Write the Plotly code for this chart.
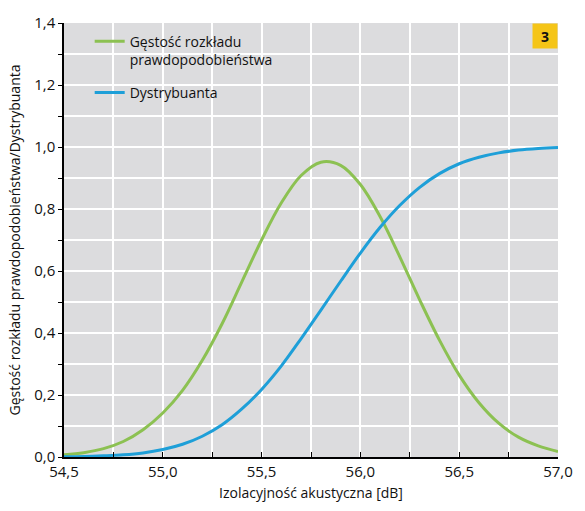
import plotly.graph_objects as go

# Data
x_vals = [54.5, 54.6, 54.7, 54.8, 54.9, 55.0, 55.1, 55.2, 55.3, 55.4, 55.5, 55.6, 55.7,
          55.8, 55.9, 56.0, 56.1, 56.2, 56.3, 56.4, 56.5, 56.6, 56.7, 56.8, 56.9, 57.0]
density = [0.007, 0.014, 0.027, 0.050, 0.088, 0.142, 0.215, 0.312, 0.430, 0.565, 0.700, 0.820, 0.908,
           0.951, 0.941, 0.879, 0.775, 0.645, 0.507, 0.377, 0.264, 0.175, 0.109, 0.064, 0.036, 0.018]
cdf = [0.001, 0.002, 0.004, 0.007, 0.013, 0.024, 0.041, 0.067, 0.104, 0.155, 0.218, 0.294, 0.382,
       0.474, 0.567, 0.658, 0.741, 0.812, 0.870, 0.914, 0.946, 0.967, 0.981, 0.990, 0.995, 0.998]

x_ticks = [54.5, 54.75, 55.0, 55.25, 55.5, 55.75, 56.0, 56.25, 56.5, 56.75, 57.0]
x_labels = ["54,5", "", "55,0", "", "55,5", "", "56,0", "", "56,5", "", "57,0"]
y_ticks = [0.0, 0.1, 0.2, 0.3, 0.4, 0.5, 0.6, 0.7, 0.8, 0.9, 1.0, 1.1, 1.2, 1.3, 1.4]
y_labels = ["0,0", "", "0,2", "", "0,4", "", "0,6", "", "0,8", "", "1,0", "", "1,2", "", "1,4"]

names = ["Gęstość rozkładu<br>prawdopodobieństwa", "Dystrybuanta"]
colors = ["#8cc152", "#1e9fd8"]

FONT = "Open Sans, Lato, sans-serif"
TXT = "#111111"

fig = go.Figure()
fig.add_trace(go.Scatter(x=x_vals, y=density, mode="lines", name=names[0],
                         line=dict(color=colors[0], width=3, shape="spline", smoothing=1.0),
                         legendgroup="a"))
fig.add_trace(go.Scatter(x=x_vals, y=cdf, mode="lines", name=names[1],
                         line=dict(color=colors[1], width=3, shape="spline", smoothing=1.0),
                         legendgroup="b"))

fig.update_layout(
    width=585, height=511,
    margin=dict(l=64, r=27, t=17, b=54),
    paper_bgcolor="white",
    plot_bgcolor="#dcdcde",
    font=dict(family=FONT, size=14, color=TXT),
    showlegend=True,
    legend=dict(x=0.052, y=0.994, xanchor="left", yanchor="top",
                bgcolor="rgba(0,0,0,0)", font=dict(size=14, color=TXT),
                tracegroupgap=12, valign="top", itemwidth=30),
    xaxis=dict(range=[54.5, 57.0], tickvals=x_ticks, ticktext=x_labels,
               ticks="inside", ticklen=5, tickcolor="black", tickwidth=1.2,
               showgrid=True, gridcolor="white", gridwidth=1.5,
               showline=True, linecolor="black", linewidth=1.5,
               zeroline=False, tickfont=dict(size=15, color=TXT),
               title=dict(text="Izolacyjność akustyczna [dB]", font=dict(size=14, color=TXT), standoff=8)),
    yaxis=dict(range=[0, 1.4], tickvals=y_ticks, ticktext=y_labels,
               ticks="outside", ticklen=4, tickcolor="black", tickwidth=1.2,
               showgrid=True, gridcolor="white", gridwidth=1.5,
               showline=True, linecolor="black", linewidth=1.5,
               zeroline=False, tickfont=dict(size=15, color=TXT),
               title=dict(text="Gęstość rozkładu prawdopodobieństwa/Dystrybuanta",
                          font=dict(size=14, color=TXT), standoff=10)),
)

fig.add_annotation(xref="paper", yref="paper", x=1, y=1, xanchor="right", yanchor="top",
                   text="<b>3</b>", showarrow=False, bgcolor="#f5c518",
                   width=24, height=24, borderpad=0, font=dict(size=14, color=TXT))

fig.write_html("out.html")
